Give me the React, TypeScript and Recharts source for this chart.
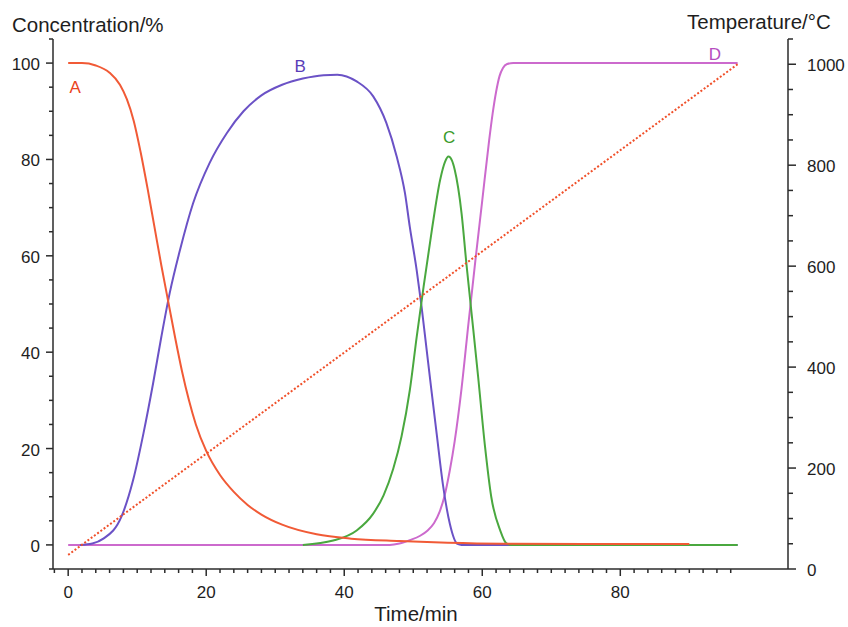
import {
  LineChart,
  Line,
  XAxis,
  YAxis,
  ReferenceDot,
} from "recharts";

// time (min) / concentration (%), one pair of arrays per species
const timeA = [0, 2, 4, 6, 7.5, 8.5, 9.5, 10.5, 11.5, 12.5, 13.5, 14.5, 15.5, 16.5, 17.5, 18.5, 20, 22, 24, 26, 28, 31, 36, 41, 48, 55, 63, 75, 90];
const concA = [100, 100, 99.5, 98, 95.5, 92.5, 88, 81.5, 74, 66, 58, 50.5, 43, 36, 30, 25, 19.5, 14.5, 11, 8.3, 6.3, 4.2, 2.2, 1.3, 0.8, 0.45, 0.25, 0.2, 0.2];

const timeB = [1.7, 3.5, 5.1, 7.7, 9.4, 10.9, 12.3, 13.5, 14.7, 16.2, 18.1, 20.5, 23, 25.4, 28, 31, 34, 37, 39, 41.8, 44.2, 46.1, 47.6, 48.8, 49.5, 50.5, 51.2, 51.9, 52.6, 53.4, 54.3, 55.3, 56.4, 57, 97];
const concB = [0, 0.3, 1.3, 5.8, 13.4, 23.1, 33.5, 43.2, 52.2, 61.2, 70.9, 79.3, 85.5, 90, 93.3, 95.5, 96.8, 97.5, 97.6, 96.2, 93.1, 87.6, 80.6, 73, 66, 57, 49.5, 41, 32.5, 23, 12.5, 4.4, 0.2, 0, 0];

const timeC = [34, 38.4, 41.8, 44.2, 45.7, 47.1, 48.3, 49.5, 50.5, 51.5, 52.7, 53.9, 54.6, 55.1, 55.6, 56, 57, 57.7, 58.5, 59.4, 60.4, 61.3, 62.6, 63.5, 64.2, 97];
const concC = [0, 0.9, 3, 6.5, 10.3, 15.8, 22.5, 32.1, 43.2, 53.6, 65.4, 75.8, 79.5, 80.6, 79.8, 77.9, 68.8, 58.4, 47.4, 34.9, 20.4, 10, 3, 0.3, 0, 0];

const timeD = [0, 46.6, 48, 49.5, 51, 52, 53, 53.8, 54.5, 55.3, 56, 57, 58, 59, 60, 61, 61.5, 62, 62.5, 63, 63.6, 64.5, 97];
const concD = [0, 0, 0.3, 1, 1.9, 2.9, 4.5, 6.8, 10, 15.5, 21.5, 32.5, 46, 59, 71.5, 84, 89.5, 94, 97.3, 99, 99.8, 100, 100];

// linear heating ramp, right axis
const timeT = [0, 97];
const tempT = [28, 1000];

const xMajorTicks = [0, 20, 40, 60, 80];
const concMajorTicks = [0, 20, 40, 60, 80, 100];
const tempMajorTicks = [0, 200, 400, 600, 800, 1000];

const xTicks = Array.from({ length: 50 }, (_, i) => -2 + i * 2);
const concTicks = Array.from({ length: 23 }, (_, i) => -5 + i * 5);
const tempTicks = Array.from({ length: 22 }, (_, i) => i * 50);

const zip = (ts: number[], vs: number[]) => ts.map((t, i) => ({ t, v: vs[i] }));

const dataA = zip(timeA, concA);
const dataB = zip(timeB, concB);
const dataC = zip(timeC, concC);
const dataD = zip(timeD, concD);
const dataT = zip(timeT, tempT);

const AXIS = "#2b2b2b";
const TEXT = "#1e1e1e";

function BottomTick({ x, y, payload }: any) {
  const v = payload.value;
  const major = xMajorTicks.includes(v);
  return (
    <g>
      <line x1={x} x2={x} y1={y} y2={y + (major ? 7 : 4)} stroke={AXIS} strokeWidth={1.5} />
      {major && (
        <text x={x} y={y + 29} textAnchor="middle" fontSize={17} fill={TEXT}>
          {v}
        </text>
      )}
    </g>
  );
}

function LeftTick({ x, y, payload }: any) {
  const v = payload.value;
  const major = concMajorTicks.includes(v);
  return (
    <g>
      <line x1={x} x2={x - (major ? 7 : 4)} y1={y} y2={y} stroke={AXIS} strokeWidth={1.5} />
      {major && (
        <text x={x - 13} y={y + 7} textAnchor="end" fontSize={17} fill={TEXT}>
          {v}
        </text>
      )}
    </g>
  );
}

function RightTick({ x, y, payload }: any) {
  const v = payload.value;
  const major = tempMajorTicks.includes(v);
  return (
    <g>
      <line x1={x} x2={x + (major ? 8 : 5)} y1={y} y2={y} stroke={AXIS} strokeWidth={1.5} />
      {major && (
        <text x={x + 19} y={y + 7} textAnchor="start" fontSize={17} fill={TEXT}>
          {v}
        </text>
      )}
    </g>
  );
}

const curveLabels = [
  { name: "A", t: 1, c: 95, color: "#ea4420" },
  { name: "B", t: 33.6, c: 99.5, color: "#5a3db8" },
  { name: "C", t: 55.2, c: 84.7, color: "#3a9a2a" },
  { name: "D", t: 93.7, c: 101.8, color: "#b54cc0" },
];

export default function App() {
  return (
    <div
      style={{
        position: "absolute",
        left: 0,
        top: 0,
        width: 848,
        height: 627,
        background: "#fff",
        fontFamily: '"Liberation Sans", Arial, sans-serif',
      }}
    >
      <LineChart width={848} height={627} margin={{ top: 39, right: 0, bottom: 0, left: 0 }}>
        <XAxis
          dataKey="t"
          type="number"
          domain={[-2.2, 104.3]}
          ticks={xTicks}
          interval={0}
          allowDataOverflow
          height={58}
          tickSize={0}
          tickMargin={0}
          tickLine={false}
          axisLine={{ stroke: AXIS, strokeWidth: 1.5 }}
          tick={<BottomTick />}
        />
        <YAxis
          yAxisId="c"
          type="number"
          domain={[-5, 105]}
          ticks={concTicks}
          interval={0}
          allowDataOverflow
          width={53}
          tickSize={0}
          tickMargin={0}
          tickLine={false}
          axisLine={{ stroke: AXIS, strokeWidth: 1.5 }}
          tick={<LeftTick />}
        />
        <YAxis
          yAxisId="temp"
          orientation="right"
          type="number"
          domain={[0, 1050]}
          ticks={tempTicks}
          interval={0}
          allowDataOverflow
          width={60}
          tickSize={0}
          tickMargin={0}
          tickLine={false}
          axisLine={{ stroke: AXIS, strokeWidth: 1.5 }}
          tick={<RightTick />}
        />

        <Line yAxisId="c" data={dataD} dataKey="v" type="monotone" stroke="#cc6acd" strokeWidth={2} dot={false} isAnimationActive={false} />
        <Line yAxisId="c" data={dataB} dataKey="v" type="monotone" stroke="#6b52c6" strokeWidth={2} dot={false} isAnimationActive={false} />
        <Line yAxisId="c" data={dataC} dataKey="v" type="monotone" stroke="#4aa83f" strokeWidth={2} dot={false} isAnimationActive={false} />
        <Line yAxisId="c" data={dataA} dataKey="v" type="monotone" stroke="#f15a36" strokeWidth={2} dot={false} isAnimationActive={false} />
        <Line yAxisId="temp" data={dataT} dataKey="v" type="linear" stroke="#f0502a" strokeWidth={2} strokeDasharray="2 2" dot={false} isAnimationActive={false} />

        {curveLabels.map((l) => (
          <ReferenceDot
            key={l.name}
            yAxisId="c"
            x={l.t}
            y={l.c}
            r={0}
            stroke="none"
            fill="none"
            label={{ value: l.name, position: "center", fill: l.color, fontSize: 17 }}
          />
        ))}

        <text x={12} y={31.5} fontSize={20.5} fill={TEXT}>
          Concentration/%
        </text>
        <text x={687} y={28.5} fontSize={20.5} fill={TEXT}>
          Temperature/°C
        </text>
        <text x={416} y={621} fontSize={20.5} fill={TEXT} textAnchor="middle">
          Time/min
        </text>
      </LineChart>
    </div>
  );
}
